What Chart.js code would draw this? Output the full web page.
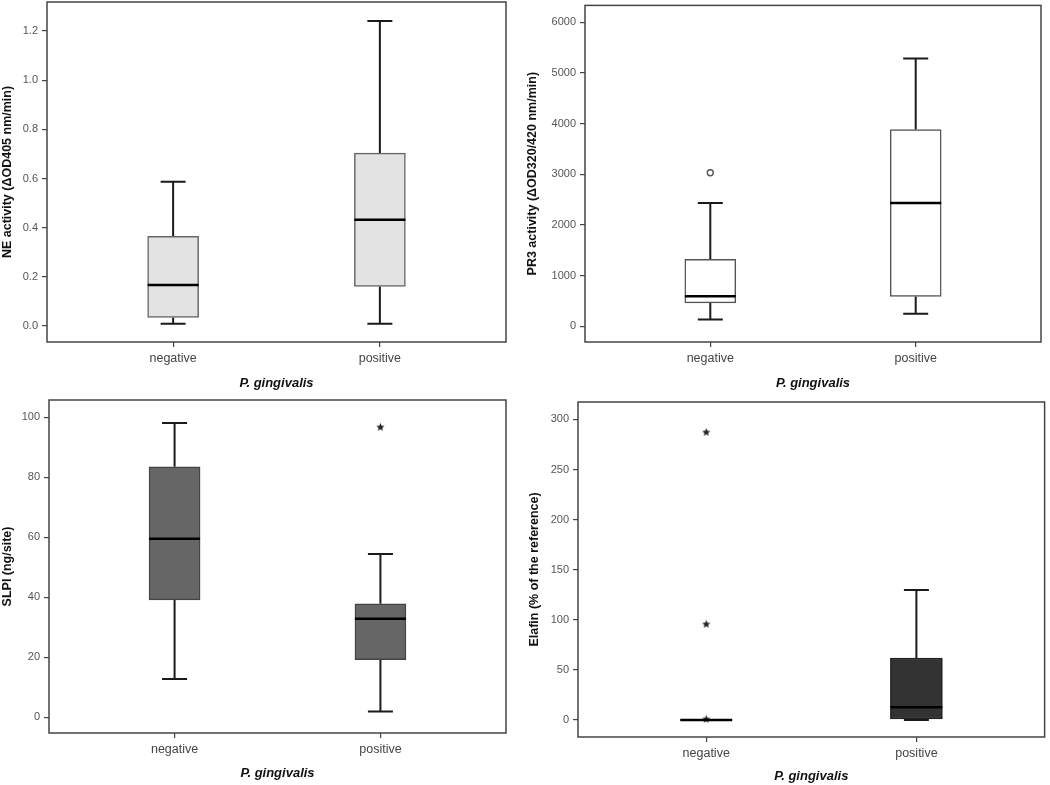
<!DOCTYPE html>
<html>
<head>
<meta charset="utf-8">
<script src="https://cdn.jsdelivr.net/npm/chart.js@4"></script>
<style>
  body { margin: 0; background: #fff; width: 1050px; height: 785px; position: relative; overflow: hidden; }
  .p { position: absolute; width: 525px; }
</style>
</head>
<body>
<div class="p" style="left:0;top:0;height:392px"><canvas id="cNE"></canvas></div>
<div class="p" style="left:525px;top:0;height:392px"><canvas id="cPR3"></canvas></div>
<div class="p" style="left:0;top:392px;height:393px"><canvas id="cSLPI"></canvas></div>
<div class="p" style="left:525px;top:392px;height:393px"><canvas id="cElafin"></canvas></div>
<script>
const groups = ['negative', 'positive'];

// box stats: [min, q1, median, q3, max]
const neNeg   = [0.009, 0.035, 0.167, 0.365, 0.587];
const nePos   = [0.009, 0.161, 0.432, 0.703, 1.241];
const pr3Neg  = [138, 464, 595, 1322, 2436];
const pr3Pos  = [248, 589, 2436, 3882, 5285];
const slpiNeg = [12.7, 39.1, 59.5, 83.5, 98.1];
const slpiPos = [1.9, 19.2, 32.8, 37.8, 54.4];
const elafNeg = [0, 0, 0, 0, 0];
const elafPos = [0, 1, 12.7, 61.9, 129.7];

// outliers (o) and extremes (*)
const pr3OutNeg  = [3031];
const slpiExtPos = [96.8];
const elafExtNeg = [287.4, 95.8, 1];

const neTicks   = [0, 0.2, 0.4, 0.6, 0.8, 1.0, 1.2];
const pr3Ticks  = [0, 1000, 2000, 3000, 4000, 5000, 6000];
const slpiTicks = [0, 20, 40, 60, 80, 100];
const elafTicks = [0, 50, 100, 150, 200, 250, 300];

const FONT = "'Liberation Sans', Arial, sans-serif";

// small filled star used for extreme values
const starImg = document.createElement('canvas');
starImg.width = 9; starImg.height = 9;
(() => {
  const c = starImg.getContext('2d');
  c.fillStyle = '#222';
  c.beginPath();
  for (let k = 0; k < 10; k++) {
    const r = k % 2 ? 1.9 : 4.3;
    const a = -Math.PI / 2 + k * Math.PI / 5;
    c.lineTo(4.5 + r * Math.cos(a), 4.8 + r * Math.sin(a));
  }
  c.closePath();
  c.fill();
})();

const boxPlot = {
  id: 'boxPlot',
  beforeDatasetsDraw(chart, args, o) {
    const { ctx, scales: { x, y } } = chart;
    ctx.save();
    ctx.strokeStyle = '#1a1a1a';
    ctx.lineWidth = 2;
    o.stats.forEach((s, i) => {
      const cx = x.getPixelForValue(i + 1);
      const cw = o.capWidth / 2;
      const [mn, q1, , q3, mx] = s.map(v => y.getPixelForValue(v));
      ctx.beginPath();
      ctx.moveTo(cx, q3); ctx.lineTo(cx, mx);
      ctx.moveTo(cx - cw, mx); ctx.lineTo(cx + cw, mx);
      ctx.moveTo(cx, q1); ctx.lineTo(cx, mn);
      ctx.moveTo(cx - cw, mn); ctx.lineTo(cx + cw, mn);
      ctx.stroke();
    });
    ctx.restore();
  },
  afterDatasetDraw(chart, args, o) {
    if (args.index !== 0) return;
    const { ctx, scales: { x, y } } = chart;
    ctx.save();
    ctx.strokeStyle = '#000';
    ctx.lineWidth = 2.5;
    o.stats.forEach((s, i) => {
      const cx = x.getPixelForValue(i + 1);
      const md = y.getPixelForValue(s[2]);
      ctx.beginPath();
      ctx.moveTo(cx - o.boxWidth / 2, md); ctx.lineTo(cx + o.boxWidth / 2, md);
      ctx.stroke();
    });
    ctx.restore();
  },
  afterDraw(chart) {
    const { ctx, chartArea: a } = chart;
    ctx.save();
    ctx.strokeStyle = '#444';
    ctx.lineWidth = 1.5;
    ctx.strokeRect(a.left, a.top, a.right - a.left, a.bottom - a.top);
    ctx.restore();
  }
};

function makePanel(id, p) {
  const H = p.height;
  const datasets = [{
    type: 'bar',
    data: p.stats.map((s, i) => ({ x: i + 1, y: [s[1], s[3]] })),
    backgroundColor: p.fill,
    borderColor: p.border,
    borderWidth: 1.5,
    borderSkipped: false,
    barThickness: p.boxWidth,
  }];
  p.outliers.forEach((vals, i) => {
    if (!vals.length) return;
    datasets.push({
      type: 'scatter',
      data: vals.map(v => ({ x: i + 1, y: v })),
      pointStyle: p.outStyle === 'star' ? starImg : 'circle',
      pointRadius: 3,
      backgroundColor: '#fff',
      borderColor: '#555',
      borderWidth: 1.4,
    });
  });

  new Chart(document.getElementById(id), {
    data: { datasets },
    options: {
      responsive: true, maintainAspectRatio: false, animation: false,
      layout: { padding: { left: 0, top: p.area.top, right: 525 - p.area.right, bottom: 0 } },
      plugins: {
        legend: { display: false }, tooltip: { enabled: false },
        boxPlot: { stats: p.stats, boxWidth: p.boxWidth, capWidth: 25 },
      },
      scales: {
        x: {
          type: 'linear', min: 0.39, max: 2.61, offset: false,
          afterBuildTicks: s => { s.ticks = groups.map((g, i) => ({ value: i + 1 })); },
          afterFit: s => { s.height = H - p.area.bottom; s.paddingLeft = 0; s.paddingRight = 0; },
          border: { display: false },
          grid: { offset: false, drawOnChartArea: false, drawTicks: true, tickLength: 5, color: '#444', lineWidth: 1.2 },
          ticks: { color: '#444', font: { family: FONT, size: 12.5 }, padding: 4, callback: v => groups[v - 1] },
          title: { display: true, text: 'P. gingivalis', color: '#111',
                   font: { family: FONT, size: 13, weight: 'bold', style: 'italic' },
                   padding: { top: 0, bottom: p.xTitlePad } },
        },
        y: {
          min: p.yMin, max: p.yMax,
          afterBuildTicks: s => { s.ticks = p.ticks.map(v => ({ value: v })); },
          afterFit: s => { s.width = p.area.left; s.paddingTop = 0; s.paddingBottom = 0; },
          border: { display: false },
          grid: { drawOnChartArea: false, drawTicks: true, tickLength: 5, color: '#444', lineWidth: 1.2 },
          ticks: { color: '#555', font: { family: FONT, size: 11 }, padding: 4, callback: p.fmt },
          title: { display: true, text: p.yTitle, color: '#111',
                   font: { family: FONT, size: 12.5, weight: 'bold' },
                   padding: { top: p.yTitlePad, bottom: 0 } },
        },
      },
    },
    plugins: [boxPlot],
  });
}

makePanel('cNE', {
  height: 392, area: { left: 47, right: 506, top: 2, bottom: 342 },
  yMin: -0.065, yMax: 1.318, ticks: neTicks, fmt: v => v.toFixed(1),
  yTitle: 'NE activity (\u0394OD405 nm/min)', yTitlePad: 0, xTitlePad: 1,
  stats: [neNeg, nePos], outliers: [[], []], outStyle: 'circle',
  fill: '#e3e3e3', border: '#666', boxWidth: 51,
});

makePanel('cPR3', {
  height: 392, area: { left: 60, right: 516, top: 4, bottom: 342 },
  yMin: -308, yMax: 6332, ticks: pr3Ticks, fmt: v => String(v),
  yTitle: 'PR3 activity (\u0394OD320/420 nm/min)', yTitlePad: 0.5, xTitlePad: 1,
  stats: [pr3Neg, pr3Pos], outliers: [pr3OutNeg, []], outStyle: 'circle',
  fill: '#fff', border: '#555', boxWidth: 51,
});

makePanel('cSLPI', {
  height: 393, area: { left: 49, right: 506, top: 8, bottom: 341 },
  yMin: -5.3, yMax: 105.8, ticks: slpiTicks, fmt: v => String(v),
  yTitle: 'SLPI (ng/site)', yTitlePad: 0, xTitlePad: 4,
  stats: [slpiNeg, slpiPos], outliers: [[], slpiExtPos], outStyle: 'star',
  fill: '#666', border: '#444', boxWidth: 51,
});

makePanel('cElafin', {
  height: 393, area: { left: 53, right: 521, top: 10, bottom: 345 },
  yMin: -17, yMax: 317.4, ticks: elafTicks, fmt: v => String(v),
  yTitle: 'Elafin (% of the reference)', yTitlePad: 2, xTitlePad: 0.5,
  stats: [elafNeg, elafPos], outliers: [elafExtNeg, []], outStyle: 'star',
  fill: '#333', border: '#222', boxWidth: 52,
});
</script>
</body>
</html>
